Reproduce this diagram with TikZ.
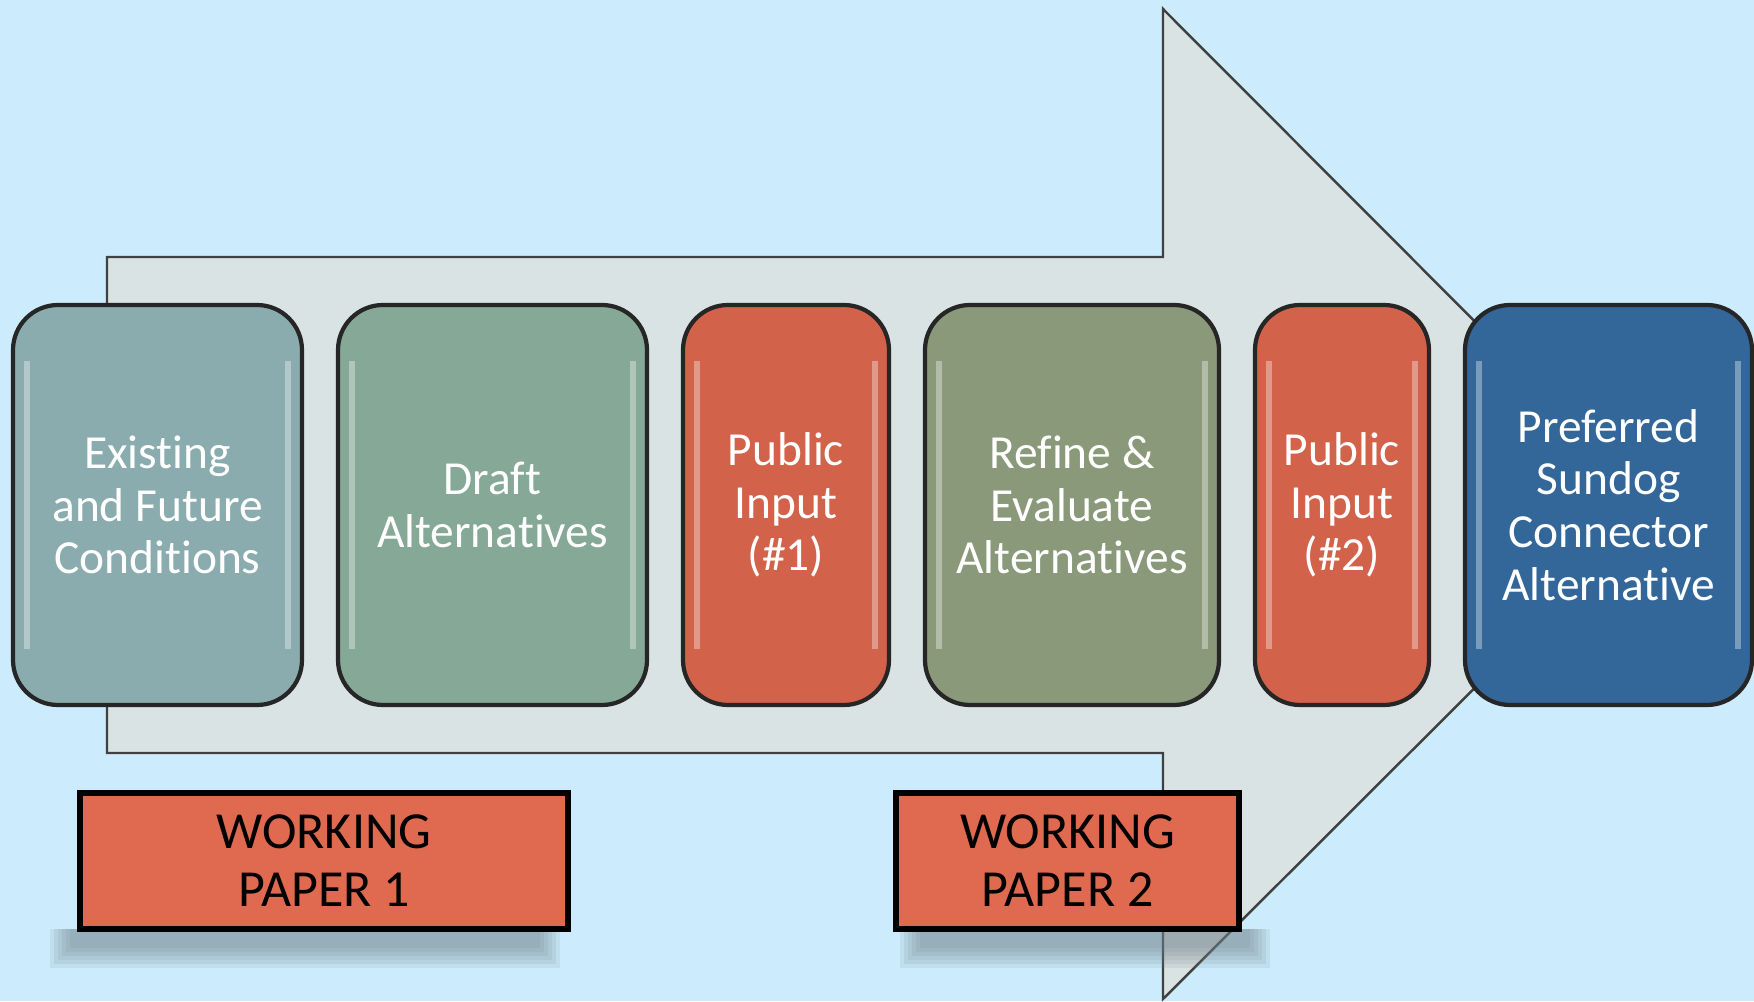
\documentclass[tikz,border=0pt]{standalone}
\usepackage{fontspec}
\setmainfont[Ligatures=NoCommon]{Carlito}
\usepackage{tikz}
\usetikzlibrary{positioning}
\usepackage{xcolor}

\definecolor{skyback}{RGB}{204,236,253}
\definecolor{arrowgray}{RGB}{218,227,227}
\definecolor{stepteal}{RGB}{138,172,174}
\definecolor{stepsage}{RGB}{134,168,151}
\definecolor{steprust}{RGB}{210,99,74}
\definecolor{stepolive}{RGB}{138,153,122}
\definecolor{stepblue}{RGB}{51,103,153}
\definecolor{paperred}{RGB}{224,106,80}

\tikzset{
  stepbox/.style={rectangle,rounded corners=0.45cm,draw=black!85,line width=1.2pt,
    minimum height=4cm,inner sep=0pt,outer sep=0pt,text=white,align=center,
    font=\fontsize{13.5}{15}\selectfont,
    path picture={
      \draw[white,opacity=.35,line width=1.6pt]
        ([xshift=4pt,yshift=-16pt]path picture bounding box.north west) --
        ([xshift=4pt,yshift=16pt]path picture bounding box.south west);
      \draw[white,opacity=.35,line width=1.6pt]
        ([xshift=-4pt,yshift=-16pt]path picture bounding box.north east) --
        ([xshift=-4pt,yshift=16pt]path picture bounding box.south east);
    }},
  paperbox/.style={rectangle,draw=black,line width=1.6pt,fill=paperred,
    minimum height=1.36cm,inner sep=0pt,align=center,
    font=\fontsize{14.8}{16.5}\selectfont},
  node distance=0.36cm
}

\begin{document}
\begin{tikzpicture}[line join=miter]
\useasboundingbox (0,0) rectangle (17.54,10.01);
\fill[skyback] (0,0) rectangle (17.54,10.01);

% big process arrow
\filldraw[fill=arrowgray,draw=black!75,line width=0.7pt]
  (1.07,2.48) -- (1.07,7.44) -- (11.63,7.44) -- (11.63,9.92)
  -- (16.58,4.96) -- (11.63,0.02) -- (11.63,2.48) -- cycle;

% steps
\node[stepbox,fill=stepteal,minimum width=2.89cm] (cond) at (1.575,4.96)
  {Existing\\and Future\\Conditions};
\node[stepbox,fill=stepsage,minimum width=3.09cm,right=of cond] (draft)
  {Draft\\Alternatives};
\node[stepbox,fill=steprust,minimum width=2.06cm,right=of draft] (pub1)
  {Public\\Input\\(\#1)};
\node[stepbox,fill=stepolive,minimum width=2.94cm,right=of pub1] (refine)
  {Refine \&\\Evaluate\\Alternatives};
\node[stepbox,fill=steprust,minimum width=1.74cm,right=of refine] (pub2)
  {Public\\Input\\(\#2)};
\node[stepbox,fill=stepblue,minimum width=2.87cm,right=of pub2] (pref)
  {Preferred\\Sundog\\Connector\\Alternative};

% soft shadows under the papers
\foreach \s in {0,0.04,...,0.2}
  \fill[black!45!skyback,opacity=0.13] (0.50+\s,0.72) rectangle (5.60-\s,0.33+\s);
\foreach \s in {0,0.04,...,0.2}
  \fill[black!45!skyback,opacity=0.13] (9.00+\s,0.72) rectangle (12.70-\s,0.33+\s);

% working papers
\node[paperbox,minimum width=4.88cm] (wp1) at (3.24,1.40) {WORKING\\PAPER 1};
\node[paperbox,minimum width=3.43cm] (wp2) at (10.675,1.40) {WORKING\\PAPER 2};
\end{tikzpicture}
\end{document}
